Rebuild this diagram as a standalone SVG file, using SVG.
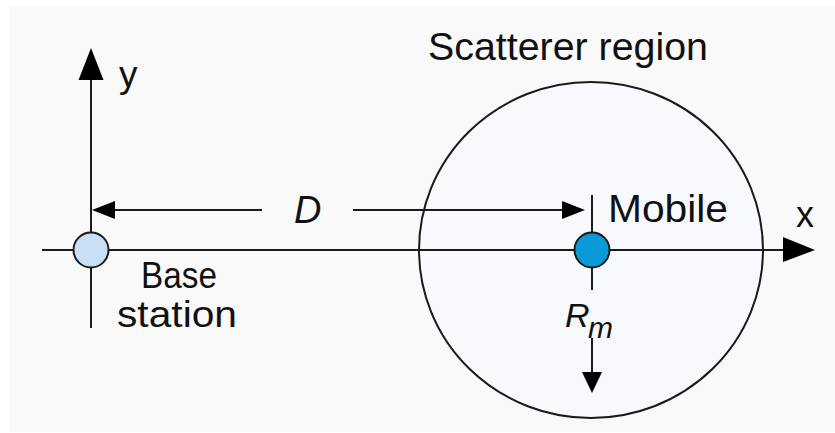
<svg xmlns="http://www.w3.org/2000/svg" width="835" height="433" viewBox="0 0 835 433">
<style>
.ln{stroke:#1a1a1a;stroke-width:2;fill:none}
.hd{fill:#000}
.t{font-family:"Liberation Sans",Arial,sans-serif;fill:#111}
.it{font-style:italic}
</style>
<rect x="0" y="0" width="835" height="433" fill="#ffffff"/>
<rect x="9" y="7" width="826" height="425" fill="#f9f9f9"/>
<g id="scatterer-region">
<ellipse cx="591" cy="250" rx="172" ry="168" fill="#f8f9fd" stroke="#1a1a1a" stroke-width="2"/>
<text class="t" x="428" y="60" font-size="38" textLength="280" lengthAdjust="spacingAndGlyphs">Scatterer region</text>
</g>
<g id="connectors">
<line class="ln" x1="91" y1="328" x2="91" y2="78"/>
<polygon class="hd" points="91,48 78.5,80 103.5,80"/>
<line class="ln" x1="42" y1="250" x2="785" y2="250"/>
<polygon class="hd" points="815,250 783,237 783,262"/>
<line class="ln" x1="113" y1="210" x2="262" y2="210"/>
<polygon class="hd" points="92,210 115,201 115,219"/>
<line class="ln" x1="353" y1="210" x2="564" y2="210"/>
<polygon class="hd" points="585,210 562,201 562,219"/>
<line class="ln" x1="592" y1="195" x2="592" y2="290"/>
<line class="ln" x1="592" y1="338" x2="592" y2="374"/>
<polygon class="hd" points="592,393 582,372 602,372"/>
</g>
<g id="base-station">
<circle cx="91" cy="250" r="17.5" fill="#c9dff4" stroke="#1a1a1a" stroke-width="2"/>
<text class="t" x="141" y="288" font-size="36" textLength="76" lengthAdjust="spacingAndGlyphs">Base</text>
<text class="t" x="117" y="327" font-size="36" textLength="120" lengthAdjust="spacingAndGlyphs">station</text>
</g>
<g id="mobile">
<circle cx="592" cy="250" r="17.5" fill="#0a9ad8" stroke="#1a1a1a" stroke-width="2"/>
<text class="t" x="608" y="222" font-size="38" textLength="120" lengthAdjust="spacingAndGlyphs">Mobile</text>
</g>
<g id="labels">
<text class="t" x="119" y="87" font-size="37">y</text>
<text class="t" x="796" y="227" font-size="36">x</text>
<text class="t it" x="294" y="223" font-size="38">D</text>
<text class="t it" x="565" y="327" font-size="34">R</text>
<text class="t it" x="588" y="338" font-size="30">m</text>
</g>
</svg>
